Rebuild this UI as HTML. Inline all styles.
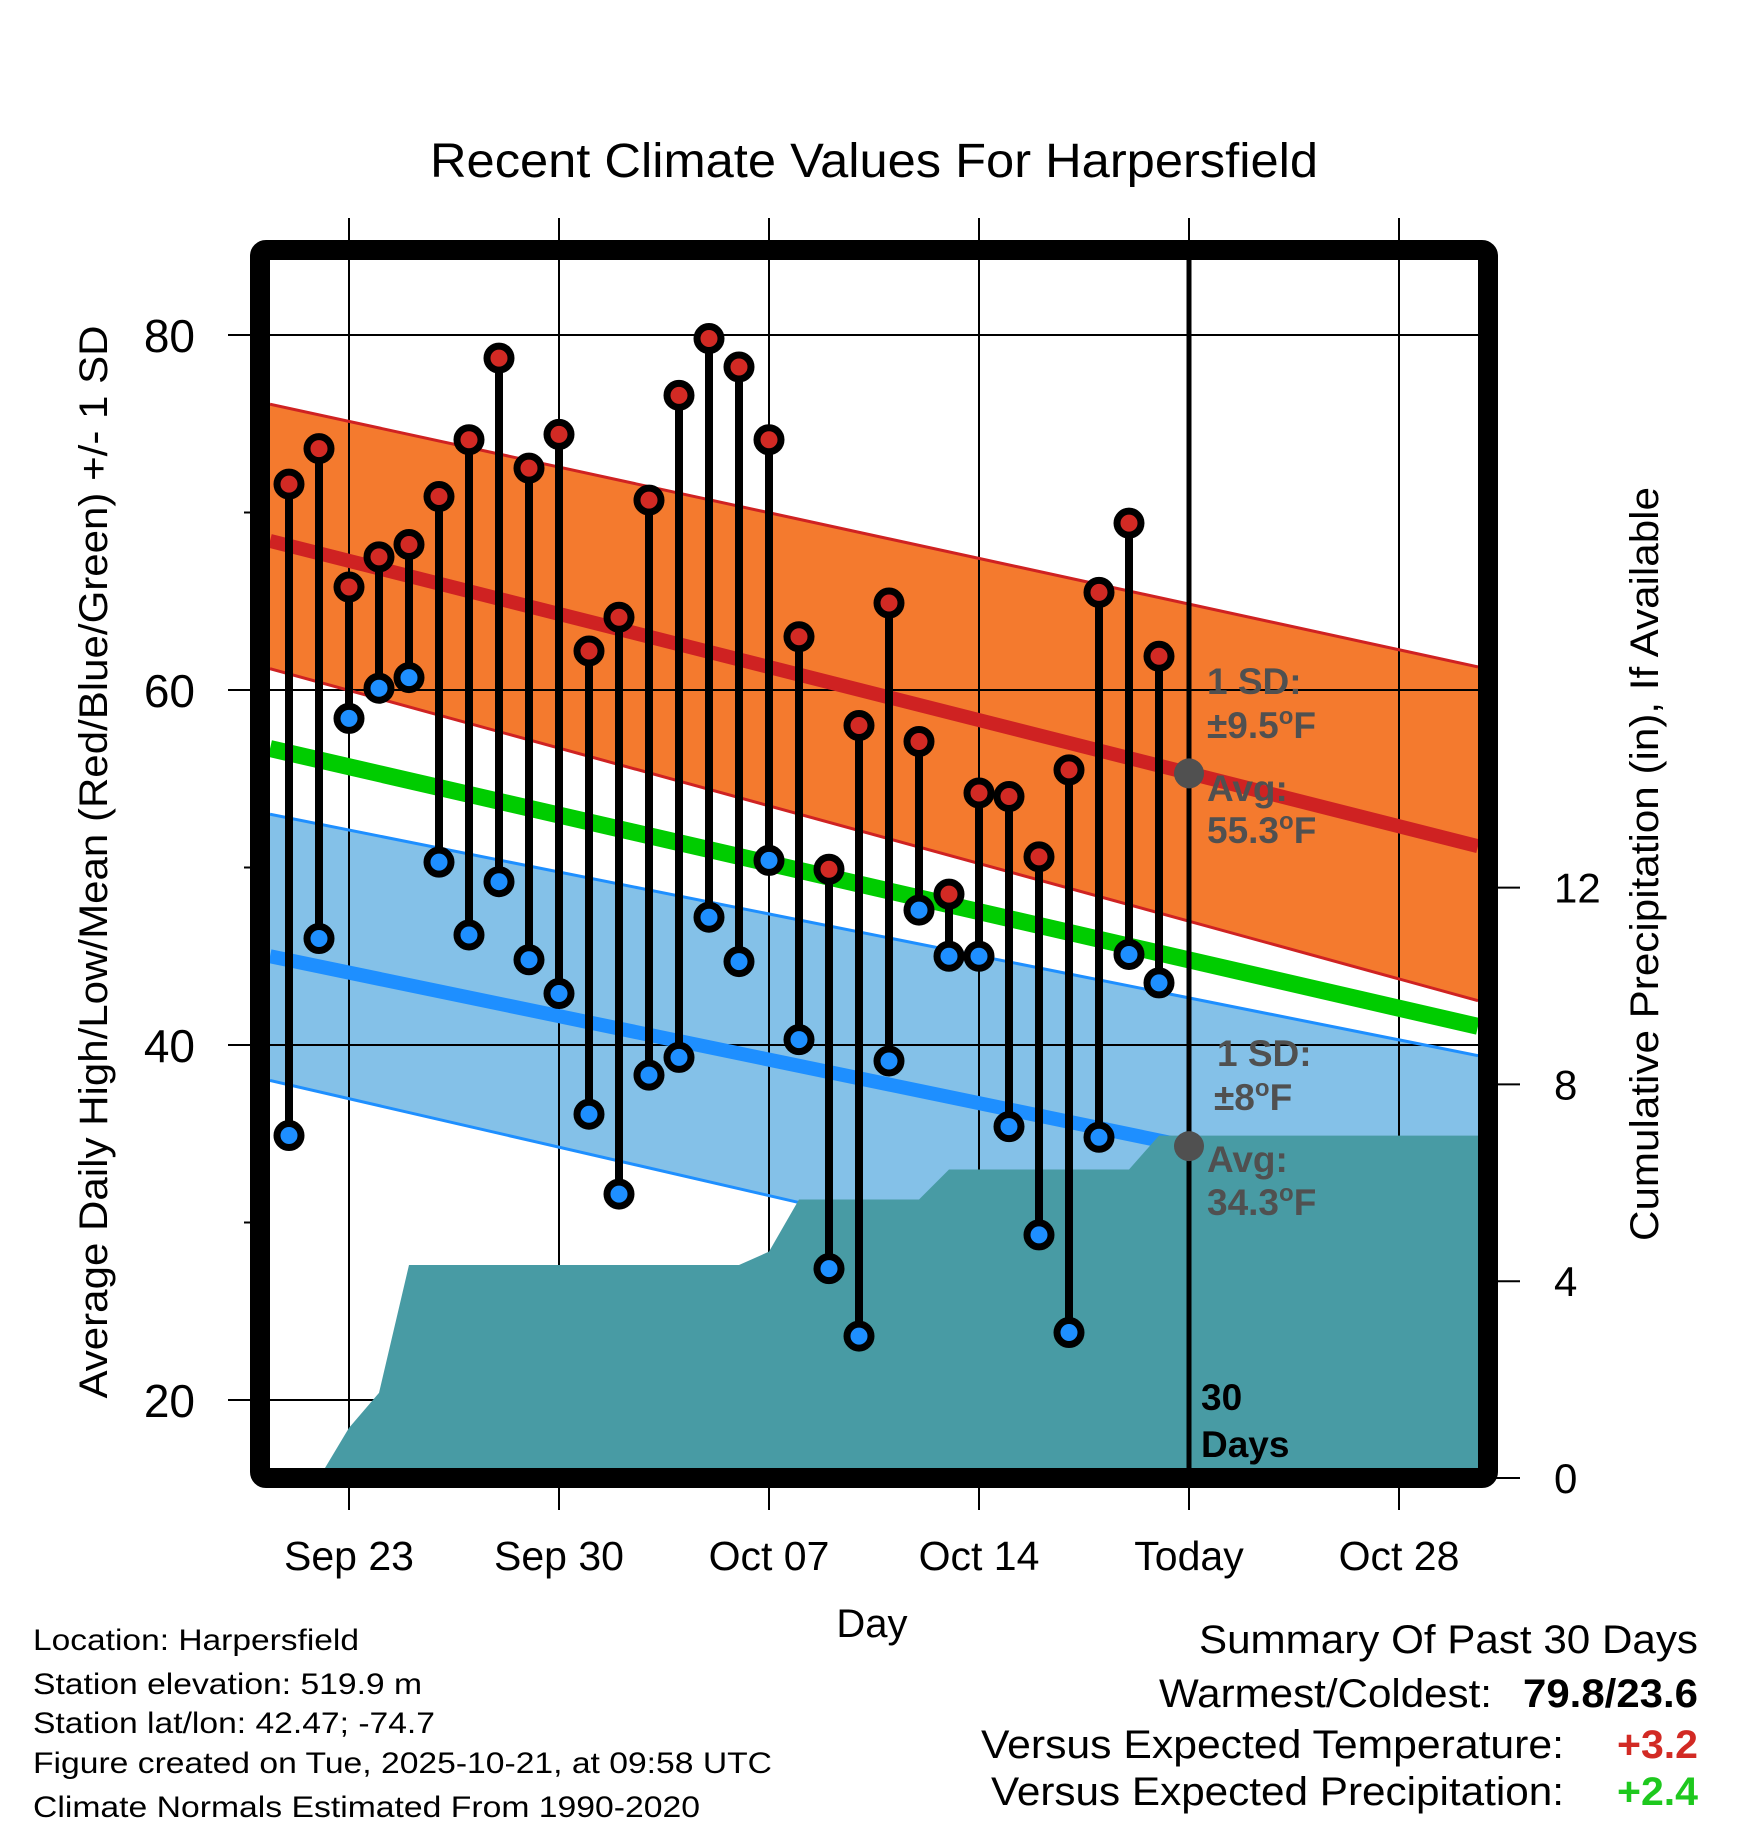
<!DOCTYPE html>
<html><head><meta charset="utf-8"><style>
html,body{margin:0;padding:0;background:#fff;}
svg{display:block;font-family:"Liberation Sans",Arial,sans-serif;}
</style></head><body>
<svg id="chart" width="1748" height="1828" viewBox="0 0 1748 1828" xmlns="http://www.w3.org/2000/svg">
<text x="874" y="177" text-anchor="middle" font-size="48" textLength="888" lengthAdjust="spacingAndGlyphs">Recent Climate Values For Harpersfield</text>
<g id="plot"></g>
<text transform="translate(107,862) rotate(-90)" text-anchor="middle" font-size="40" textLength="1073" lengthAdjust="spacingAndGlyphs">Average Daily High/Low/Mean (Red/Blue/Green) +/- 1 SD</text>
<text transform="translate(1658,864) rotate(-90)" text-anchor="middle" font-size="40" textLength="754" lengthAdjust="spacingAndGlyphs">Cumulative Precipitation (in), If Available</text>
<text x="872" y="1637" text-anchor="middle" font-size="40">Day</text>
<g font-size="30">
<text x="33" y="1650" textLength="326" lengthAdjust="spacingAndGlyphs">Location: Harpersfield</text>
<text x="33" y="1694" textLength="389" lengthAdjust="spacingAndGlyphs">Station elevation: 519.9 m</text>
<text x="33" y="1733" textLength="402" lengthAdjust="spacingAndGlyphs">Station lat/lon: 42.47; -74.7</text>
<text x="33" y="1773" textLength="739" lengthAdjust="spacingAndGlyphs">Figure created on Tue, 2025-10-21, at 09:58 UTC</text>
<text x="33" y="1817" textLength="667" lengthAdjust="spacingAndGlyphs">Climate Normals Estimated From 1990-2020</text>
</g>
<g font-size="40">
<text x="1199" y="1653" textLength="499" lengthAdjust="spacingAndGlyphs">Summary Of Past 30 Days</text>
<text x="1159" y="1707" textLength="333" lengthAdjust="spacingAndGlyphs">Warmest/Coldest:</text>
<text x="1523" y="1707" font-weight="bold" textLength="175" lengthAdjust="spacingAndGlyphs">79.8/23.6</text>
<text x="981" y="1758" textLength="583" lengthAdjust="spacingAndGlyphs">Versus Expected Temperature:</text>
<text x="1617" y="1758" font-weight="bold" fill="#d22a24" textLength="81" lengthAdjust="spacingAndGlyphs">+3.2</text>
<text x="991" y="1805" textLength="573" lengthAdjust="spacingAndGlyphs">Versus Expected Precipitation:</text>
<text x="1617" y="1805" font-weight="bold" fill="#1ec81e" textLength="81" lengthAdjust="spacingAndGlyphs">+2.4</text>
</g>
</svg>
<script>
const highs = [71.6,73.6,65.8,67.5,68.2,70.9,74.1,78.7,72.5,74.4,62.2,64.1,70.7,76.6,79.8,78.2,74.1,63.0,49.9,58.0,64.9,57.1,48.5,54.2,54.0,50.6,55.5,65.5,69.4,61.9];
const lows = [34.9,46.0,58.4,60.1,60.7,50.3,46.2,49.2,44.8,42.9,36.1,31.6,38.3,39.3,47.2,44.7,50.4,40.3,27.4,23.6,39.1,47.6,45.0,45.0,35.4,29.3,23.8,34.8,45.1,43.5];
const precip = [0,0,1.02,1.73,4.33,4.33,4.33,4.33,4.33,4.33,4.33,4.33,4.33,4.33,4.33,4.33,4.6,5.66,5.66,5.66,5.66,5.66,6.27,6.27,6.27,6.27,6.27,6.27,6.27,6.96];
// normals at [left plot edge, right plot edge]
const normalHigh = [68.4, 51.2];
const normalLow = [45.0, 30.9];
const highBandTop = [76.1, 61.3];
const highBandBottom = [61.2, 42.5];
const lowBandTop = [53.0, 39.4];
const lowBandBottom = [38.0, 22.3];
const normalHighToday = 55.3;
const normalLowToday = 34.3;
const tempTicks = [20,40,60,80];
const tempMinor = [30,50,70];
const precipTicks = [0,4,8,12];
const dateTicks = [2,9,16,23,30,37];
const dateLabels = ["Sep 23","Sep 30","Oct 07","Oct 14","Today","Oct 28"];
const todayIndex = 30;

const NS = "http://www.w3.org/2000/svg";
const plot = document.getElementById('plot');
const L = 270, R = 1478, T = 260, B = 1468;
const xDay = d => 289 + 30 * d;
const yT = t => 690 - (t - 60) * 17.75;
const yP = p => 1478 - p * 49.2;

function mk(tag, attrs, parent) {
  const e = document.createElementNS(NS, tag);
  for (const k in attrs) e.setAttribute(k, attrs[k]);
  (parent || plot).appendChild(e);
  return e;
}
const clip = mk('clipPath', {id: 'pc'});
mk('rect', {x: L, y: T, width: R - L, height: B - T}, clip);
const gBack = mk('g', {'clip-path': 'url(#pc)'});
const gGrid = mk('g', {});
const g = mk('g', {'clip-path': 'url(#pc)'});
const gTop = mk('g', {});

function band(top, bot, fill, name) {
  const pts = [[L, yT(top[0])], [R, yT(top[1])], [R, yT(bot[1])], [L, yT(bot[0])]];
  const p = mk('polygon', {points: pts.map(q => q.join(',')).join(' '), fill: fill}, gBack);
  
  
  return pts;
}
const hb = band(highBandTop, highBandBottom, '#f47a2e', 'high-sd-band');
const lb = band(lowBandTop, lowBandBottom, '#84c1e8', 'low-sd-band');

tempTicks.forEach(t => {
  const l = mk('line', {x1: 228, x2: R, y1: yT(t), y2: yT(t), stroke: '#000', 'stroke-width': 2}, gGrid);
  
  
  const tx = mk('text', {x: 195, y: yT(t) + 17, 'text-anchor': 'end', 'font-size': 46}, gGrid);
  tx.textContent = t;
  
  
});
tempMinor.forEach(t => {
  const l = mk('line', {x1: 244, x2: 252, y1: yT(t), y2: yT(t), stroke: '#000', 'stroke-width': 2}, gGrid);
  
  
});
dateTicks.forEach((d, i) => {
  const l = mk('line', {x1: xDay(d), x2: xDay(d), y1: 218, y2: 1510, stroke: '#000', 'stroke-width': 2}, gGrid);
  
  
  const tx = mk('text', {x: xDay(d), y: 1570, 'text-anchor': 'middle', 'font-size': 41}, gGrid);
  tx.textContent = dateLabels[i];
  
  
});
precipTicks.forEach(p => {
  const l = mk('line', {x1: 1490, x2: 1520, y1: yP(p), y2: yP(p), stroke: '#000', 'stroke-width': 2}, gGrid);
  
  
  const tx = mk('text', {x: 1554, y: yP(p) + 15, 'font-size': 42}, gGrid);
  tx.textContent = p;
  
  
});

// band edges
[[hb, '#cf2222'], [lb, '#1e8fff']].forEach(([pts, c]) => {
  mk('line', {x1: pts[0][0], y1: pts[0][1], x2: pts[1][0], y2: pts[1][1], stroke: c, 'stroke-width': 3}, g);
  mk('line', {x1: pts[3][0], y1: pts[3][1], x2: pts[2][0], y2: pts[2][1], stroke: c, 'stroke-width': 3}, g);
});
const mh = mk('line', {x1: L, y1: yT(normalHigh[0]), x2: R, y2: yT(normalHigh[1]), stroke: '#cf2222', 'stroke-width': 14}, g);


const mm = mk('line', {x1: L, y1: yT((normalHigh[0] + normalLow[0]) / 2), x2: R, y2: yT((normalHigh[1] + normalLow[1]) / 2), stroke: '#00cc00', 'stroke-width': 17}, g);


const ml = mk('line', {x1: L, y1: yT(normalLow[0]), x2: R, y2: yT(normalLow[1]), stroke: '#1e8fff', 'stroke-width': 14}, g);



let pp = [[xDay(1), yP(0)]];
for (let i = 1; i < precip.length; i++) pp.push([xDay(i), yP(precip[i])]);
pp.push([R + 20, yP(precip[precip.length - 1])]);
pp.push([R + 20, B + 20]);
pp.push([xDay(1), B + 20]);
const pa = mk('polygon', {points: pp.map(q => q.join(',')).join(' '), fill: '#489ba4'}, g);



highs.forEach((h, i) => {
  const s = mk('line', {x1: xDay(i), x2: xDay(i), y1: yT(h), y2: yT(lows[i]), stroke: '#000', 'stroke-width': 8}, gTop);
  
  
});
highs.forEach((h, i) => {
  const c = mk('circle', {cx: xDay(i), cy: yT(h), r: 12, fill: '#d22a24', stroke: '#000', 'stroke-width': 7}, gTop);
  
  
  const c2 = mk('circle', {cx: xDay(i), cy: yT(lows[i]), r: 12, fill: '#1e8fff', stroke: '#000', 'stroke-width': 7}, gTop);
  
  
});

const tl = mk('line', {x1: xDay(todayIndex), x2: xDay(todayIndex), y1: T, y2: B, stroke: '#000', 'stroke-width': 5}, gTop);


[normalHighToday, normalLowToday].forEach(v => {
  const c = mk('circle', {cx: xDay(todayIndex), cy: yT(v), r: 15, fill: '#505050'}, gTop);
  
  
});

function ann(x, y, txt, fill, name) {
  const t = mk('text', {x: x, y: y, 'font-size': 37, 'font-weight': 'bold', fill: fill}, gTop);
  t.innerHTML = txt;
  
  
}
ann(1207, 694, '1 SD:', '#505050', 'high-sd-label');
ann(1207, 738, '±9.5<tspan font-size="24" dy="-14">o</tspan><tspan dy="14">F</tspan>', '#505050', 'high-sd-value');
ann(1207, 801, 'Avg:', '#505050', 'high-avg-label');
ann(1207, 843, '55.3<tspan font-size="24" dy="-14">o</tspan><tspan dy="14">F</tspan>', '#505050', 'high-avg-value');
ann(1217, 1066, '1 SD:', '#505050', 'low-sd-label');
ann(1214, 1110, '±8<tspan font-size="24" dy="-14">o</tspan><tspan dy="14">F</tspan>', '#505050', 'low-sd-value');
ann(1207, 1172, 'Avg:', '#505050', 'low-avg-label');
ann(1207, 1215, '34.3<tspan font-size="24" dy="-14">o</tspan><tspan dy="14">F</tspan>', '#505050', 'low-avg-value');
ann(1201, 1410, '30', '#000', 'days-count-label');
ann(1201, 1457, 'Days', '#000', 'days-label');

const fr = mk('rect', {x: 260, y: 250, width: 1228, height: 1228, fill: 'none', stroke: '#000', 'stroke-width': 20, rx: 6}, gTop);


</script>
</body></html>
